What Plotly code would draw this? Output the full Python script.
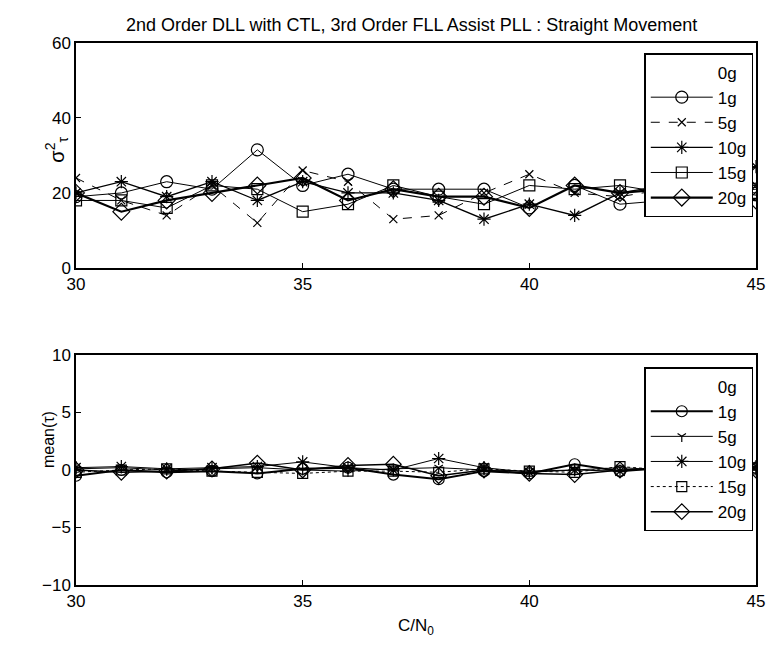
import plotly.graph_objects as go

cn0 = [30, 31, 32, 33, 34, 35, 36, 37, 38, 39, 40, 41, 42, 43, 44, 45]
series_names = ["0g", "1g", "5g", "10g", "15g", "20g"]

# Top: variance of tau
var_0g = [20, 20, 20, 21, 21, 20, 20, 21, 20, 20, 20, 21, 20, 20, 20, 20]
var_1g = [19, 20, 23, 21, 31.5, 22, 25, 21, 21, 21, 16, 22, 17, 18, 20, 21]
var_5g = [24, 18, 14, 22, 12, 26, 23, 13, 14, 20, 25, 20, 19, 21, 22, 22]
var_10g = [20, 23, 19, 23, 18, 23, 20, 20, 18, 13, 17, 14, 20, 22, 23, 27]
var_15g = [18, 18, 16, 22, 21, 15, 17, 22, 19, 17, 22, 21, 22, 20, 21, 20]
var_20g = [20, 15, 18, 20, 22, 24, 18, 21, 19, 19, 16, 22, 20, 21, 20, 18]

# Bottom: mean of tau
mean_0g = [0.0, 0.0, 0.0, 0.0, 0.0, 0.0, 0.0, 0.0, 0.0, 0.0, 0.0, 0.0, 0.0, 0.0, 0.0, 0.0]
mean_1g = [-0.5, 0.0, -0.2, -0.1, -0.3, 0.1, 0.2, -0.4, -0.8, -0.1, -0.3, 0.5, -0.1, 0.2, 0.1, 0.2]
mean_5g = [0.1, 0.2, 0.0, 0.1, 0.2, 0.0, -0.1, 0.1, 0.2, 0.0, -0.1, 0.0, 0.2, 0.0, 0.1, 0.0]
mean_10g = [0.2, 0.3, 0.1, 0.2, 0.3, 0.7, 0.2, 0.0, 1.0, 0.2, -0.2, 0.0, -0.1, 0.3, 0.1, 0.3]
mean_15g = [-0.2, 0.0, 0.1, -0.1, -0.2, -0.3, -0.1, -0.1, -0.2, 0.1, -0.1, -0.2, 0.3, 0.0, 0.0, 0.1]
mean_20g = [0.0, -0.2, -0.1, 0.1, 0.6, 0.0, 0.4, 0.5, -0.5, 0.0, -0.3, -0.4, 0.0, 0.1, 0.0, 0.0]

top_vals = [var_0g, var_1g, var_5g, var_10g, var_15g, var_20g]
bot_vals = [mean_0g, mean_1g, mean_5g, mean_10g, mean_15g, mean_20g]

top_styles = [
    dict(color="white", dash="solid", width=1, symbol="circle-open", msize=0),
    dict(color="black", dash="solid", width=1, symbol="circle-open", msize=12),
    dict(color="black", dash="dash", width=1, symbol="x-thin-open", msize=8),
    dict(color="black", dash="solid", width=1.3, symbol="asterisk-open", msize=11),
    dict(color="black", dash="solid", width=1, symbol="square-open", msize=11),
    dict(color="black", dash="solid", width=2.2, symbol="diamond-open", msize=13),
]
bot_styles = [
    dict(color="white", dash="solid", width=1, symbol="circle-open", msize=0),
    dict(color="black", dash="solid", width=2, symbol="circle-open", msize=11),
    dict(color="black", dash="solid", width=1, symbol="y-down-open", msize=7),
    dict(color="black", dash="solid", width=1, symbol="asterisk-open", msize=11),
    dict(color="black", dash="dot", width=1, symbol="square-open", msize=10),
    dict(color="black", dash="solid", width=1.5, symbol="diamond-open", msize=12),
]

fig = go.Figure()
for name, vals, st in zip(series_names, top_vals, top_styles):
    fig.add_trace(go.Scatter(
        x=cn0, y=vals, name=name, mode="lines+markers",
        line=dict(color=st["color"], dash=st["dash"], width=st["width"]),
        marker=dict(symbol=st["symbol"], size=st["msize"], color=st["color"],
                    line=dict(color=st["color"], width=1.2)),
        xaxis="x", yaxis="y", legend="legend"))
for name, vals, st in zip(series_names, bot_vals, bot_styles):
    fig.add_trace(go.Scatter(
        x=cn0, y=vals, name=name, mode="lines+markers",
        line=dict(color=st["color"], dash=st["dash"], width=st["width"]),
        marker=dict(symbol=st["symbol"], size=st["msize"], color=st["color"],
                    line=dict(color=st["color"], width=1.2)),
        xaxis="x2", yaxis="y2", legend="legend2"))

FONT = "Liberation Sans"
axis_common = dict(showline=True, linecolor="black", linewidth=1.5, mirror=True,
                   ticks="inside", ticklen=5, tickcolor="black", showgrid=False,
                   zeroline=False, tickfont=dict(family=FONT, size=17, color="black"))

legend_common = dict(bgcolor="white", bordercolor="black", borderwidth=1.5,
                     font=dict(family=FONT, size=17, color="black"),
                     itemwidth=62, tracegroupgap=0, xanchor="right", yanchor="top",
                     xref="paper", yref="paper")

fig.update_layout(
    width=777, height=650,
    margin=dict(l=76, r=13, t=43, b=65),
    paper_bgcolor="white", plot_bgcolor="white",
    showlegend=True,
    font=dict(family=FONT, color="black"),
    xaxis=dict(domain=[0, 1], range=[30, 45], tickvals=[30, 35, 40, 45], anchor="y", **axis_common),
    yaxis=dict(domain=[0.585, 1.0], range=[0, 60], tickvals=[0, 20, 40, 60], anchor="x", **axis_common),
    xaxis2=dict(domain=[0, 1], range=[30, 45], tickvals=[30, 35, 40, 45], anchor="y2", **axis_common),
    yaxis2=dict(domain=[0, 0.4244], range=[-10, 10], tickvals=[-10, -5, 0, 5, 10], anchor="x2", **axis_common),
    legend=dict(x=0.996, y=0.9815, **legend_common),
    legend2=dict(x=0.996, y=0.402, **legend_common),
    annotations=[
        dict(text="2nd Order DLL with CTL, 3rd Order FLL Assist PLL : Straight Movement",
             xref="paper", yref="paper", x=0.493, y=1.0, yshift=30, showarrow=False,
             font=dict(family=FONT, size=18, color="black")),
        dict(text="σ<sup>2</sup><sub>τ</sub>", xref="paper", yref="paper",
             x=0, xshift=-36, y=0.83, textangle=-90, showarrow=False,
             font=dict(family=FONT, size=20, color="black")),
        dict(text="mean(τ)", xref="paper", yref="paper",
             x=0, xshift=-38, y=0.212, textangle=-90, showarrow=False,
             font=dict(family=FONT, size=16, color="black")),
        dict(text="C/N<sub>0</sub>", xref="paper", yref="paper",
             x=0.5, y=0, yshift=-55, showarrow=False,
             font=dict(family=FONT, size=17, color="black")),
    ],
)

fig.write_html("out.html")
